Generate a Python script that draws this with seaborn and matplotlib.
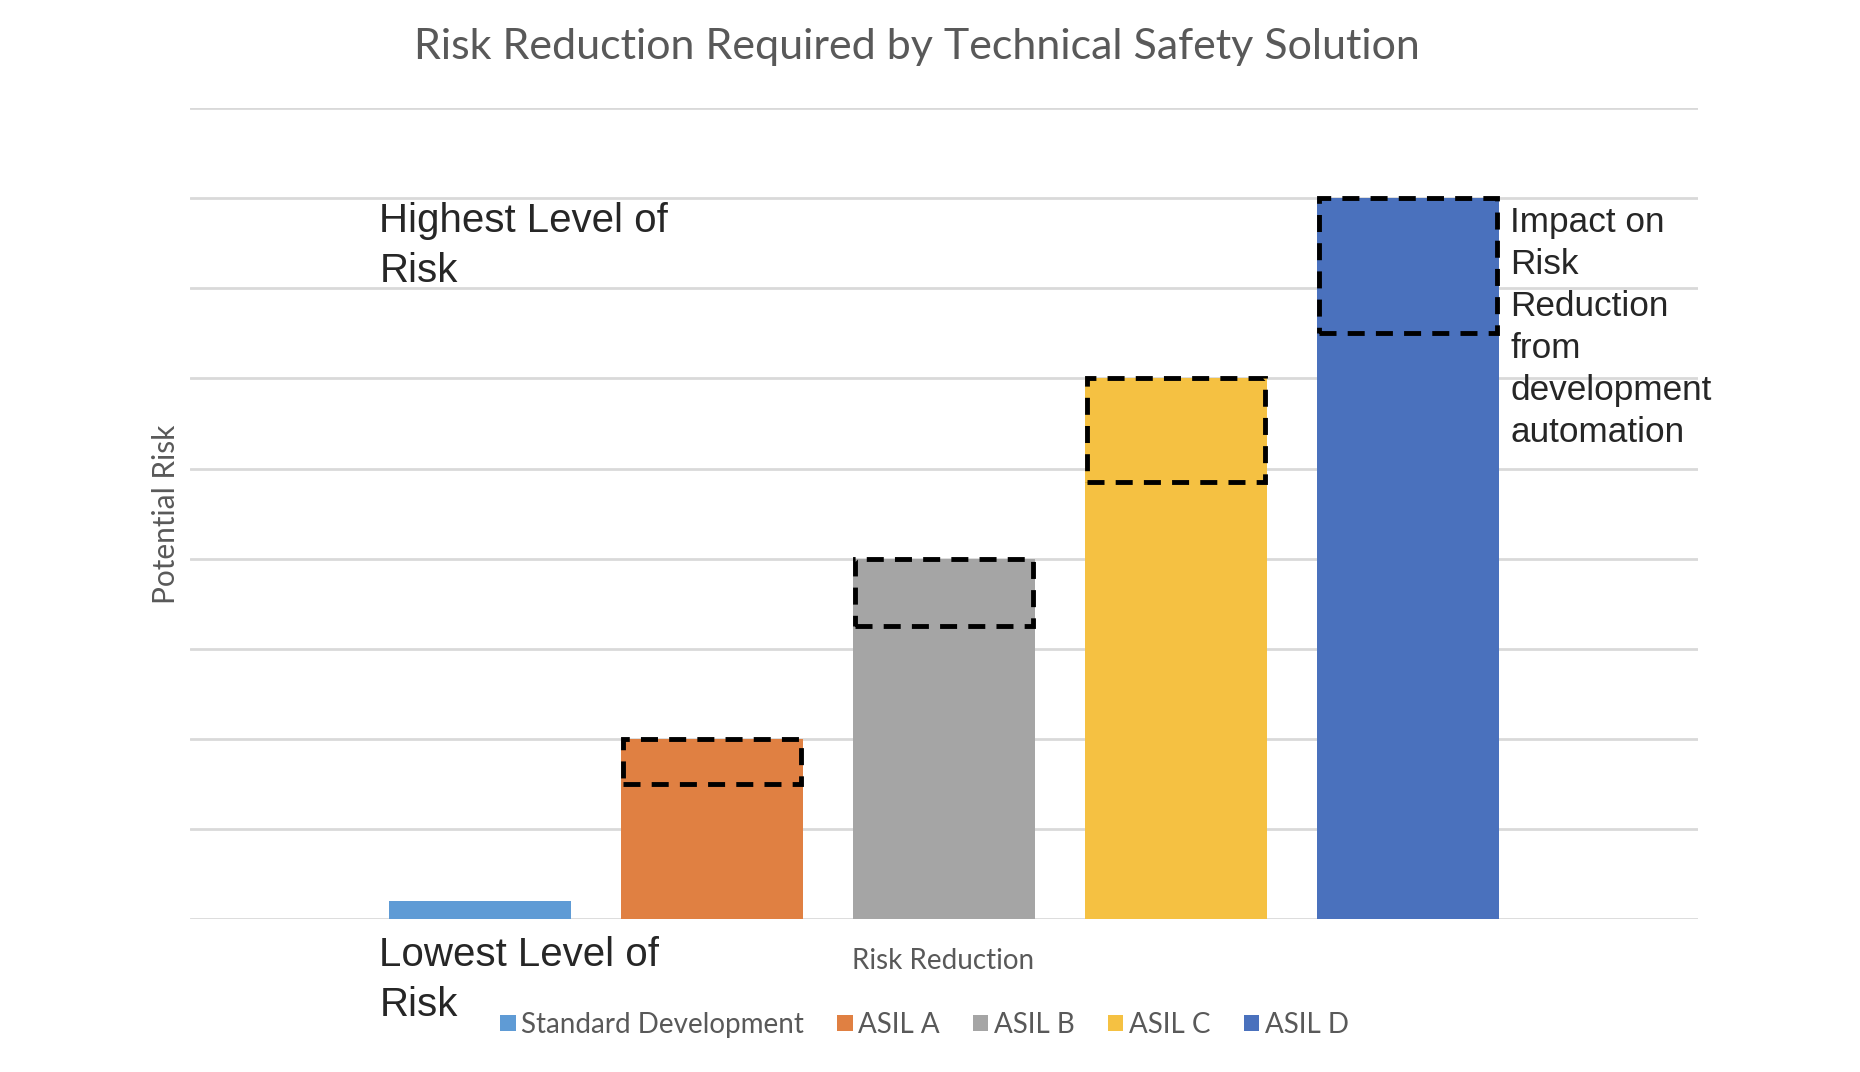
import pandas as pd
import seaborn as sns
import matplotlib.pyplot as plt
from matplotlib.patches import Patch

categories = ["Standard Development", "ASIL A", "ASIL B", "ASIL C", "ASIL D"]
potential_risk = [0.2, 2, 4, 6, 8]
# lower edge of the dashed "automation impact" box (top is the bar top)
impact_low = [None, 1.5, 3.25, 4.85, 6.5]
colors = ["#5F9BD5", "#E08042", "#A5A5A5", "#F5C142", "#4A71BD"]

df = pd.DataFrame({"level": categories, "risk": potential_risk})

sns.set_style("white")
plt.rcParams["font.family"] = ["Lato", "DejaVu Sans"]

fig = plt.figure(figsize=(18.6, 10.72), dpi=100)
ax = fig.add_axes([0.102, 0.1424, 0.811, 0.7569])

sns.barplot(data=df, x="level", y="risk", hue="level", palette=colors,
            saturation=1, width=0.785, linewidth=0, legend=False, ax=ax, zorder=3)

# dashed boxes over the top part of each ASIL bar
for i, low in enumerate(impact_low):
    if low is None:
        continue
    ax.bar(i, potential_risk[i] - low, bottom=low, width=0.77, fill=False,
           edgecolor="black", linewidth=3.5, linestyle=(0, (3.5, 2.3)), zorder=4)

ax.set_xlim(-1.25, 5.25)
ax.set_ylim(0, 9)
ax.set_yticks(range(0, 10))
ax.yaxis.grid(True, color="#D9D9D9", linewidth=2)
ax.set_axisbelow(True)
ax.set_xticks([])
ax.set_yticklabels([])
ax.tick_params(left=False, bottom=False)
ax.set_xlabel("")
ax.set_ylabel("")
sns.despine(ax=ax, left=True, bottom=True)

gray = "#595959"
fig.text(0.493, 0.956, "Risk Reduction Required by Technical Safety Solution",
         ha="center", va="center", fontsize=31, color=gray)
fig.text(0.089, 0.52, "Potential Risk", rotation=90, ha="center", va="center",
         fontsize=21.5, color=gray)
fig.text(0.507, 0.1035, "Risk Reduction", ha="center", va="center",
         fontsize=20, color=gray)

arial = ["Liberation Sans", "DejaVu Sans"]
fig.text(0.204, 0.812, "Highest Level of\nRisk", ha="left", va="top",
         fontsize=29, family=arial, linespacing=1.42)
# two separate lines so the box of the first line stays clear of the legend
fig.text(0.204, 0.127, "Lowest Level of", ha="left", va="top",
         fontsize=29, family=arial)
fig.text(0.204, 0.0805, "Risk", ha="left", va="top",
         fontsize=29, family=arial)
fig.text(0.812, 0.808, "Impact on\nRisk\nReduction\nfrom\ndevelopment\nautomation",
         ha="left", va="top", fontsize=25.3, family=arial, linespacing=1.35)

handles = [Patch(facecolor=c, edgecolor="none") for c in colors]
fig.legend(handles, categories, loc="center", bbox_to_anchor=(0.497, 0.044),
           ncol=5, frameon=False, fontsize=20, labelcolor=gray,
           handlelength=0.55, handleheight=0.55, handletextpad=0.2,
           columnspacing=1.2)

fig.savefig("out.png", dpi=100)
